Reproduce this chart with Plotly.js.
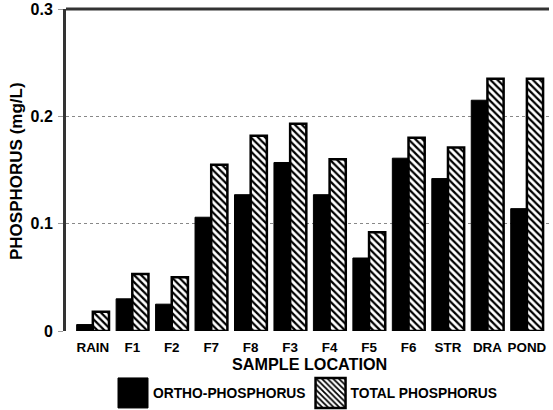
<!DOCTYPE html>
<html>
<head>
<meta charset="utf-8">
<script src="https://cdn.plot.ly/plotly-3.0.1.min.js"></script>
<style>html,body{margin:0;padding:0;background:#fff;}#chart{width:553px;height:410px;}</style>
</head>
<body>
<div id="chart"></div>
<script>
const categories = ["RAIN","F1","F2","F7","F8","F3","F4","F5","F6","STR","DRA","POND"];
const orthoPhosphorus = [0.006,0.030,0.025,0.106,0.127,0.157,0.127,0.068,0.161,0.142,0.215,0.114];
const totalPhosphorus = [0.018,0.053,0.050,0.155,0.182,0.193,0.160,0.092,0.180,0.171,0.235,0.235];
const yTicks = [0, 0.1, 0.2, 0.3];
const yTickLabels = ["0","0.1","0.2","0.3"];
const yTitle = "PHOSPHORUS (mg/L)";
const xTitle = "SAMPLE LOCATION";

const FONT = "Liberation Sans, Arial, Helvetica, sans-serif";

const traces = [
  {
    type: "bar", name: "ORTHO-PHOSPHORUS", x: categories, y: orthoPhosphorus,
    marker: {color: "#000", line: {color: "#000", width: 1}}
  },
  {
    type: "bar", name: "TOTAL PHOSPHORUS", x: categories, y: totalPhosphorus,
    marker: {color: "#fff", pattern: {shape: "\\", fgcolor: "#000", bgcolor: "#fff", size: 5, solidity: 0.45},
             line: {color: "#000", width: 2.5}}
  }
];

const layout = {
  width: 553, height: 410,
  margin: {l: 66, r: 4, t: 9, b: 79},
  paper_bgcolor: "#fff", plot_bgcolor: "#fff",
  font: {family: FONT, color: "#000", weight: "bold"},
  barmode: "group", bargap: 0.18, bargroupgap: 0,
  showlegend: true,
  legend: {orientation: "h", x: 0.5, xanchor: "center", yref: "container", y: 0.0415, yanchor: "middle",
           font: {family: FONT, size: 13.8, weight: "bold", color: "#000"},
           itemwidth: 30, traceorder: "normal"},
  xaxis: {
    type: "category", range: [-0.68, 11.56],
    showline: false, showgrid: false, zeroline: false, ticks: "",
    ticklabelstandoff: 7,
    tickfont: {family: FONT, size: 13.4, weight: "bold"},
    automargin: false
  },
  yaxis: {
    range: [0, 0.3], tickvals: yTicks, ticktext: yTickLabels,
    showline: true, linecolor: "#333", linewidth: 3,
    showgrid: true, gridcolor: "#888", griddash: "dot", gridwidth: 1,
    zeroline: false, ticks: "outside", ticklen: 5, tickcolor: "#999", tickwidth: 1,
    ticklabelstandoff: 2,
    tickfont: {family: FONT, size: 16, weight: "bold"},
    automargin: false
  },
  annotations: [
    {text: yTitle, textangle: -90, xref: "paper", yref: "paper",
     x: -49 / 483, y: 160 / 322, xanchor: "center", yanchor: "middle", showarrow: false,
     font: {family: FONT, size: 17, weight: "bold", color: "#000"}},
    {text: xTitle, xref: "paper", yref: "paper",
     x: 243 / 483, y: -33 / 322, xanchor: "center", yanchor: "middle", showarrow: false,
     font: {family: FONT, size: 16.2, weight: "bold", color: "#000"}}
  ],
  shapes: [
    {type: "line", xref: "paper", yref: "paper", x0: 0, x1: 1, y0: 1, y1: 1, line: {color: "#333", width: 3}}
  ]
};

const gd = document.getElementById("chart");
function fixLegend(){
  document.querySelectorAll(".legend .scrollbox").forEach(function(el){ el.removeAttribute("clip-path"); });
  document.querySelectorAll(".legend .legendpoints path").forEach(function(p){
    p.setAttribute("d", "M15,15H-15V-15H15Z");
    p.setAttribute("transform", "translate(20,0)");
  });
}
Plotly.newPlot(gd, traces, layout, {displayModeBar: false, staticPlot: true}).then(function(){
  fixLegend();
  gd.on("plotly_afterplot", fixLegend);
});
</script>
</body>
</html>
